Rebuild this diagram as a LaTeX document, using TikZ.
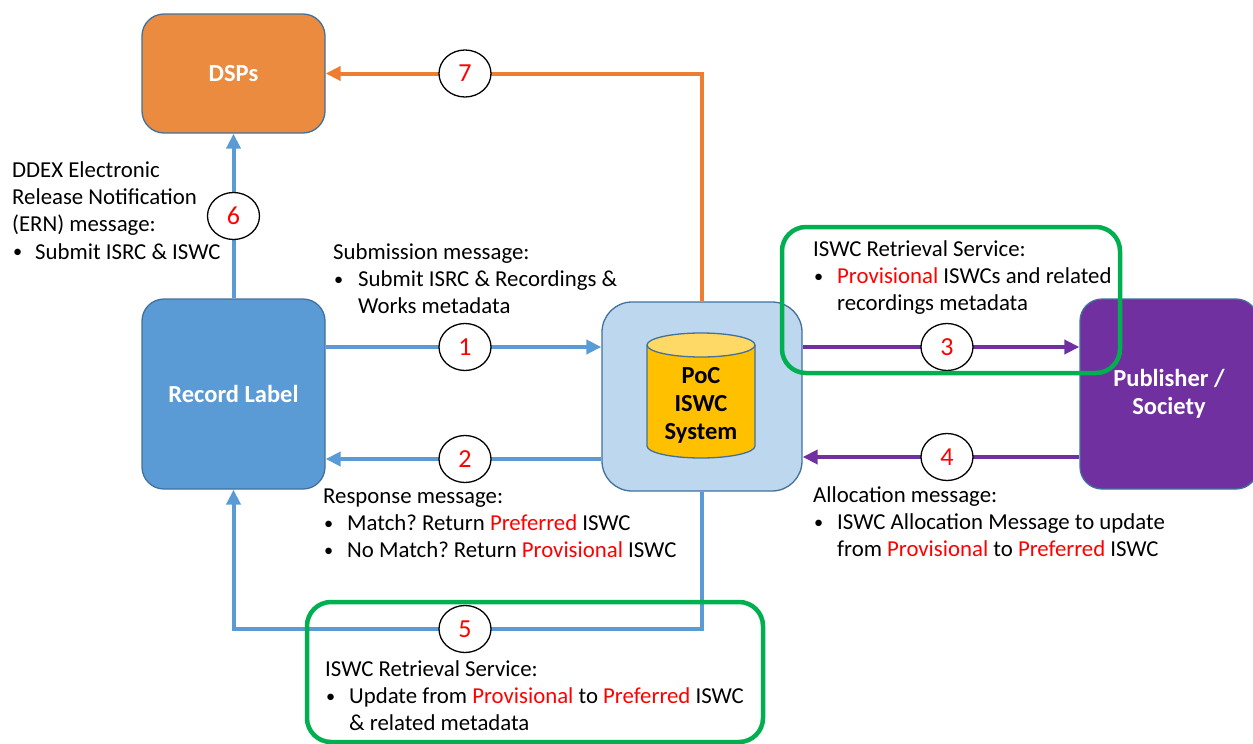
\documentclass[tikz,border=0pt]{standalone}
\usepackage{fontspec}
\setmainfont{Carlito}
\usetikzlibrary{arrows.meta,shapes.geometric}
\definecolor{lblue}{HTML}{5B9BD5}
\definecolor{orng}{HTML}{ED7D31}
\definecolor{dspfill}{HTML}{EA8B40}
\definecolor{pocfill}{HTML}{BDD7EE}
\definecolor{purp}{HTML}{7030A0}
\definecolor{grn}{HTML}{00B050}
\definecolor{edgec}{HTML}{41719C}
\definecolor{cylfill}{HTML}{FFC000}
\definecolor{cyltop}{HTML}{FFD966}
\newcommand{\redtxt}[1]{\textcolor{red}{#1}}
\newcommand{\bulit}[1][24pt]{\makebox[#1][l]{\hspace*{1pt}\raisebox{0.05em}{\scalebox{0.8}{•}}}}
\frenchspacing
\begin{document}
\begin{tikzpicture}[x=1pt,y=-1pt,
  box/.style={draw=edgec, line width=1.3pt, rounded corners=22pt, font=\fontsize{24.5}{28}\selectfont\bfseries, text=white, align=center},
  num/.style={ellipse, draw=black, line width=1.3pt, fill=white, minimum width=52pt, minimum height=47pt, inner sep=0pt, text=red, font=\fontsize{26}{28}\selectfont},
  conn/.style={line width=4pt, -{Triangle[length=15pt,width=14pt]}},
  txt/.style={anchor=base west, inner sep=0pt, align=left, font=\fontsize{22.8}{27.3}\selectfont},
  grnbox/.style={draw=grn, line width=4.5pt, rounded corners=24pt}]
\useasboundingbox (0,0) rectangle (1253,744);
\clip (0,0) rectangle (1253,744);

% main boxes
\node[box, fill=dspfill, minimum width=183pt, minimum height=119pt] (dsp) at (233.5,73.5) {DSPs};
\node[box, fill=lblue, minimum width=183pt, minimum height=190pt] (rl) at (233.5,394) {Record Label};
\node[box, fill=pocfill, rounded corners=30pt, minimum width=200pt, minimum height=189pt] (poc) at (702,396.5) {};
\node[box, fill=purp, minimum width=178pt, minimum height=190pt] (pub) at (1169,394) {Publisher /\\Society};

% database cylinder
\draw[draw=edgec, line width=1.3pt, fill=cylfill] (647,345) -- (647,446) arc[start angle=180, end angle=360, x radius=54pt, y radius=12pt] -- (755,345);
\draw[draw=edgec, line width=1.3pt, fill=cyltop] (701,345) ellipse[x radius=54pt, y radius=12pt];
\node[font=\fontsize{24.5}{28}\selectfont\bfseries, align=center, inner sep=0pt] (sys) at (701,405) {PoC\\ISWC\\System};

% label positions
\coordinate (c1) at (465,347);
\coordinate (c2) at (465,459);
\coordinate (c3) at (947,347);
\coordinate (c4) at (947,457);
\coordinate (c5) at (465,629);
\coordinate (c6) at (233.5,216);
\coordinate (c7) at (465,73.5);

% connectors
\draw[conn, lblue] (rl.north) -- (dsp.south);
\draw[conn, orng] (poc.north) |- (dsp.east);
\draw[conn, lblue] (rl.east |- c1) -- (poc.west |- c1);
\draw[conn, lblue] (poc.west |- c2) -- (rl.east |- c2);
\draw[conn, purp] (poc.east |- c3) -- (pub.west |- c3);
\draw[conn, purp] (pub.west |- c4) -- (poc.east |- c4);
\draw[conn, lblue] (poc.south) |- (c5) -| (rl.south);

% numbered circles
\node[num] (n1) at (c1) {1};
\node[num] (n2) at (c2) {2};
\node[num] (n3) at (c3) {3};
\node[num] (n4) at (c4) {4};
\node[num] (n5) at (c5) {5};
\node[num] (n6) at (c6) {6};
\node[num] (n7) at (c7) {7};

% green highlight boxes
\draw[grnbox] (782,227) rectangle (1120,373);
\draw[grnbox] (307,602) rectangle (763,742);

% texts (anchored at the baseline of their last line)
\node[txt] (t6) at (12,259) {DDEX Electronic\\Release Notification\\(ERN) message:\\\bulit[23pt]Submit ISRC \& ISWC};
\node[txt] (t1) at (333,313.6) {Submission message:\\\bulit[25pt]Submit ISRC \& Recordings \&\\\hspace*{25pt}Works metadata};
\node[txt] (t2) at (323,557.6) {Response message:\\\bulit Match? Return \redtxt{Preferred} ISWC\\\bulit No Match? Return \redtxt{Provisional} ISWC};
\node[txt] (t3) at (813,310.6) {ISWC Retrieval Service:\\\bulit\redtxt{Provisional} ISWCs and related\\\hspace*{24pt}recordings metadata};
\node[txt] (t4) at (813,556.6) {Allocation message:\\\bulit ISWC Allocation Message to update\\\hspace*{24pt}from \redtxt{Provisional} to \redtxt{Preferred} ISWC};
\node[txt] (t5) at (325,730.6) {ISWC Retrieval Service:\\\bulit Update from \redtxt{Provisional} to \redtxt{Preferred} ISWC\\\hspace*{24pt}\& related metadata};
\end{tikzpicture}
\end{document}
